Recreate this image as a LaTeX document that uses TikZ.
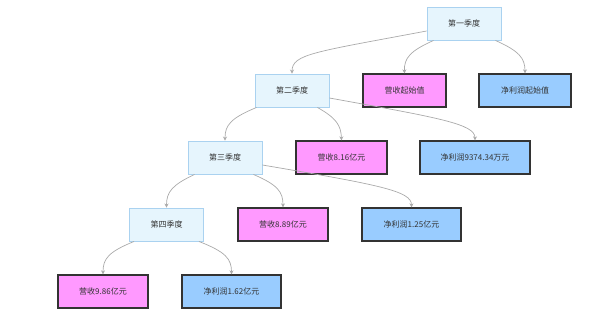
\documentclass[tikz,border=0pt]{standalone}
\usepackage{fontspec}
\setmainfont{Noto Sans CJK SC}
\usetikzlibrary{arrows.meta,calc}
\definecolor{qfill}{HTML}{E6F5FD}
\definecolor{qdraw}{HTML}{AAD2F0}
\definecolor{pinkfill}{HTML}{FF99FF}
\definecolor{bluefill}{HTML}{99CCFF}
\definecolor{dark}{HTML}{333333}
\definecolor{edgegray}{HTML}{AAAAAA}
\tikzset{
  qbox/.style={draw=qdraw, fill=qfill, line width=0.9pt, minimum width=74pt, minimum height=33pt, inner sep=0pt, font=\fontsize{8}{9}\selectfont, text=black!80},
  rbox/.style={draw=dark, fill=pinkfill, line width=1.3pt, minimum height=33pt, inner sep=0pt, font=\fontsize{8}{9}\selectfont, text=black!80},
  pbox/.style={draw=dark, fill=bluefill, line width=1.3pt, minimum height=33pt, inner sep=0pt, font=\fontsize{8}{9}\selectfont, text=black!80},
  edge/.style={draw=edgegray, line width=0.7pt, -{Stealth[length=4pt,width=4pt]}}
}
\begin{document}
\begin{tikzpicture}[x=1pt,y=-1pt]
\useasboundingbox (0,0) rectangle (593,314);
\node[qbox] (q1) at (464,23.5) {第一季度};
\node[rbox, minimum width=83pt] (r0) at (404.5,90.5) {营收起始值};
\node[pbox, minimum width=92pt] (p0) at (525,90.5) {净利润起始值};
\node[qbox] (q2) at (292,90.5) {第二季度};
\node[qbox] (q3) at (225,157.5) {第三季度};
\node[rbox, minimum width=91pt] (r1) at (341.5,157.5) {营收8.16亿元};
\node[pbox, minimum width=110pt] (p1) at (475,157.5) {净利润9374.34万元};
\node[qbox] (q4) at (166.5,224.5) {第四季度};
\node[rbox, minimum width=90pt] (r2) at (283,224.5) {营收8.89亿元};
\node[pbox, minimum width=99pt] (p2) at (411.5,224.5) {净利润1.25亿元};
\node[rbox, minimum width=90pt] (r3) at (103,291.5) {营收9.86亿元};
\node[pbox, minimum width=99pt] (p3) at (231.5,291.5) {净利润1.62亿元};

\draw[edge] ([yshift=-7.5pt]q1.west) .. controls (315,52) and (292,54) .. (q2.north);
\draw[edge] ([xshift=7pt]q1.south west) .. controls (410,51) and (404,58) .. (r0.north);
\draw[edge] ([xshift=-6pt]q1.south east) .. controls (519,51) and (525,58) .. (p0.north);

\draw[edge] ([xshift=2pt]q2.south west) .. controls (231,118) and (225,125) .. (q3.north);
\draw[edge] ([xshift=-12pt]q2.south east) .. controls (336,118) and (341,125) .. (r1.north);
\draw[edge] ([yshift=-7.5pt]q2.east) .. controls (440,118) and (475,124) .. (p1.north);

\draw[edge] ([xshift=7pt]q3.south west) .. controls (172,185) and (166.5,192) .. (q4.north);
\draw[edge] ([xshift=-9pt]q3.south east) .. controls (278,185) and (283,192) .. (r2.north);
\draw[edge] ([yshift=-7.5pt]q3.east) .. controls (380,185) and (411.5,191) .. (p2.north);

\draw[edge] ([xshift=5pt]q4.south west) .. controls (108,252) and (103,259) .. (r3.north);
\draw[edge] ([xshift=-5pt]q4.south east) .. controls (226,252) and (231.5,259) .. (p3.north);
\end{tikzpicture}
\end{document}
